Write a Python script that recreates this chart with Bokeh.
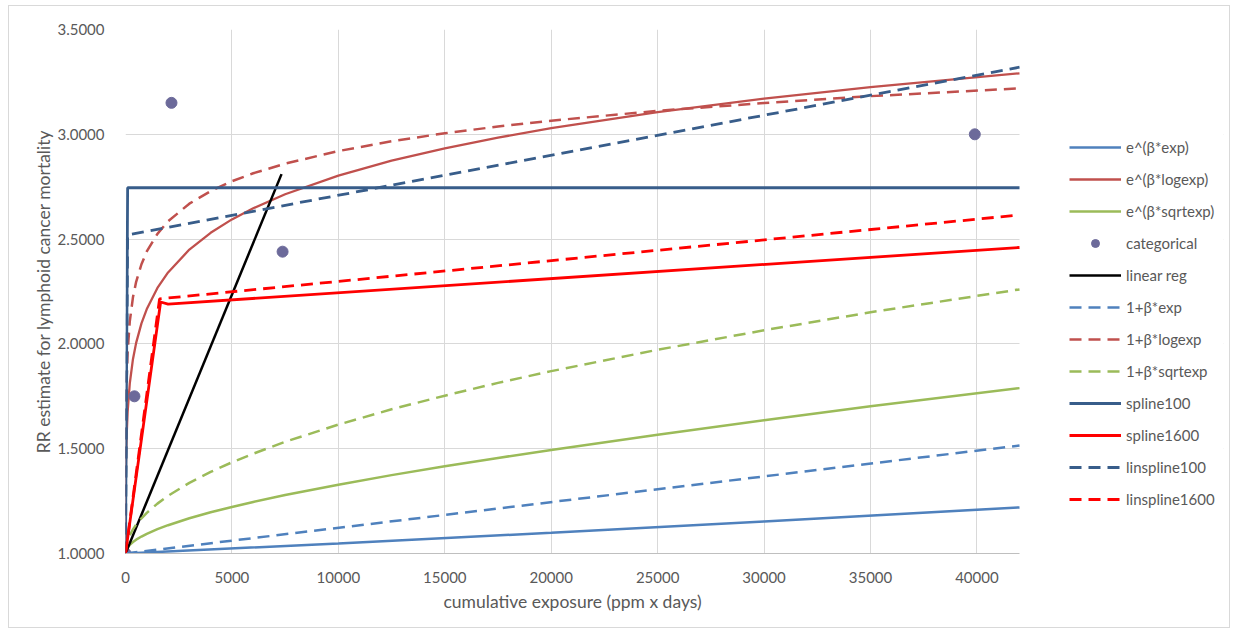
from bokeh.plotting import figure
from bokeh.models import (Legend, LegendItem, NumeralTickFormatter, Range1d,
                          BoxAnnotation, Title)
from bokeh.embed import file_html
from bokeh.resources import INLINE

# Exposure grid (ppm x days) on which the continuous model curves are given
model_x = [0, 10, 25, 50, 100, 200, 350, 500, 750, 1000, 1500, 2000, 3000, 4000,
           5000, 6000, 7500, 10000, 12500, 15000, 17500, 20000, 25000, 30000, 35000, 42000]

# RR estimates for lymphoid cancer mortality, one list per model
exp_logexp_rr = [1.000, 1.308, 1.440, 1.553, 1.676, 1.810, 1.927, 2.005, 2.098, 2.166,
                 2.267, 2.341, 2.450, 2.530, 2.594, 2.647, 2.714, 2.803, 2.874, 2.933,
                 2.984, 3.029, 3.106, 3.170, 3.225, 3.291]
lin_logexp_rr = [1.000, 1.500, 1.679, 1.820, 1.962, 2.106, 2.222, 2.296, 2.380, 2.441,
                 2.525, 2.585, 2.669, 2.729, 2.776, 2.814, 2.860, 2.920, 2.967, 3.005,
                 3.037, 3.065, 3.112, 3.149, 3.182, 3.219]
exp_sqrtexp_rr = [1.000, 1.009, 1.014, 1.020, 1.029, 1.041, 1.055, 1.066, 1.081, 1.094,
                  1.116, 1.135, 1.168, 1.197, 1.222, 1.246, 1.279, 1.328, 1.374, 1.416,
                  1.456, 1.494, 1.567, 1.636, 1.702, 1.789]
lin_sqrtexp_rr = [1.000, 1.019, 1.031, 1.043, 1.062, 1.087, 1.115, 1.138, 1.168, 1.194,
                  1.238, 1.275, 1.337, 1.389, 1.435, 1.476, 1.533, 1.615, 1.688, 1.753,
                  1.814, 1.870, 1.972, 2.065, 2.151, 2.260]

exp_exp_x = [0, 10000, 20000, 30000, 42000]
exp_exp_rr = [1.000, 1.048, 1.099, 1.153, 1.220]

lin_exp_x = [0, 42000]
lin_exp_rr = [1.000, 1.515]

linreg_x = [0, 7330]
linreg_rr = [1.000, 2.810]

categorical_x = [0, 420, 2160, 7380, 39900]
categorical_rr = [1.000, 1.750, 3.150, 2.440, 3.000]

spline100_x = [0, 100, 42000]
spline100_rr = [1.000, 2.745, 2.745]

spline1600_x = [0, 1650, 2000, 42000]
spline1600_rr = [1.000, 2.200, 2.190, 2.460]

linspline100_x = [0, 100, 42000]
linspline100_rr = [1.000, 2.520, 3.320]

linspline1600_x = [0, 1600, 42000]
linspline1600_rr = [1.000, 2.215, 2.615]

x_ticks = [0, 5000, 10000, 15000, 20000, 25000, 30000, 35000, 40000]
y_ticks = [1.0, 1.5, 2.0, 2.5, 3.0, 3.5]

X_MAX = 42000                 # right end of the plotted exposure axis
PLOT_W = 894                  # pixel width of the data area (0 .. X_MAX)
FRAME_W = 1098                # frame also holds the legend to the right of the data area

FONT = "Lato"
TEXT = "#595959"
GRID = "#D9D9D9"
DASH = "12 7"
X_TITLE = "cumulative exposure (ppm x days)"

p = figure(width=1222, height=623,
           x_range=Range1d(0, X_MAX * FRAME_W / PLOT_W), y_range=Range1d(1.0, 3.5),
           output_backend="svg", toolbar_location=None,
           min_border_left=116, min_border_right=8,
           min_border_top=23, min_border_bottom=76)
p.margin = (5, 0, 0, 8)
p.styles = {"border": "1px solid #D9D9D9"}
p.outline_line_color = None
p.background_fill_color = "white"
p.border_fill_color = "white"

# axes
p.xaxis.ticker = x_ticks
p.yaxis.ticker = y_ticks
p.xgrid.ticker = x_ticks
p.ygrid.ticker = y_ticks
p.xgrid.grid_line_color = GRID
p.ygrid.grid_line_color = GRID
p.yaxis.formatter = NumeralTickFormatter(format="0.0000")
p.xaxis.formatter = NumeralTickFormatter(format="0")
for ax in (p.xaxis, p.yaxis):
    ax.major_tick_line_color = None
    ax.minor_tick_line_color = None
    ax.major_label_text_font = FONT
    ax.major_label_text_font_size = "15px"
    ax.major_label_text_color = TEXT
p.xaxis.bounds = (0, X_MAX)
p.xaxis.axis_line_color = "#BFBFBF"
p.yaxis.axis_line_color = None
p.xaxis.major_label_standoff = 12
p.yaxis.major_label_standoff = 15

p.yaxis.axis_label = "RR estimate for lymphoid cancer mortality"
p.yaxis.axis_label_text_font = FONT
p.yaxis.axis_label_text_font_size = "17.5px"
p.yaxis.axis_label_text_font_style = "normal"
p.yaxis.axis_label_text_color = TEXT
p.yaxis.axis_label_standoff = 0

# x-axis title, centred under the data area (0 .. X_MAX) rather than the whole frame
p.add_layout(Title(text=X_TITLE, align="left", offset=318, standoff=6,
                   text_font=FONT, text_font_size="17.5px", text_font_style="normal",
                   text_color=TEXT), "below")

# blank out the gridlines to the right of the data area, where the legend sits
p.add_layout(BoxAnnotation(left=X_MAX, fill_color="white", fill_alpha=1.0,
                           line_color=None, level="underlay"))

# series, in legend order
r1 = p.line(exp_exp_x, exp_exp_rr, line_color="#4F81BD", line_width=2.5)
r2 = p.line(model_x, exp_logexp_rr, line_color="#C0504D", line_width=2.3)
r3 = p.line(model_x, exp_sqrtexp_rr, line_color="#9BBB59", line_width=2.5)
r4 = p.scatter(categorical_x, categorical_rr, size=11, fill_color="#6C6A9A",
               line_color="#6C6A9A")
r5 = p.line(linreg_x, linreg_rr, line_color="black", line_width=2.5)
r6 = p.line(lin_exp_x, lin_exp_rr, line_color="#4F81BD", line_width=2.5, line_dash=DASH)
r7 = p.line(model_x, lin_logexp_rr, line_color="#C0504D", line_width=2.5, line_dash=DASH)
r8 = p.line(model_x, lin_sqrtexp_rr, line_color="#9BBB59", line_width=2.5, line_dash=DASH)
r9 = p.line(spline100_x, spline100_rr, line_color="#385D8A", line_width=2.8)
r10 = p.line(spline1600_x, spline1600_rr, line_color="#FF0000", line_width=2.8)
r11 = p.line(linspline100_x, linspline100_rr, line_color="#385D8A", line_width=2.8,
             line_dash=DASH)
r12 = p.line(linspline1600_x, linspline1600_rr, line_color="#FF0000", line_width=2.8,
             line_dash=DASH)

labels = ["e^(\u03b2*exp)", "e^(\u03b2*logexp)", "e^(\u03b2*sqrtexp)", "categorical",
          "linear reg", "1+\u03b2*exp", "1+\u03b2*logexp", "1+\u03b2*sqrtexp",
          "spline100", "spline1600", "linspline100", "linspline1600"]
renderers = [r1, r2, r3, r4, r5, r6, r7, r8, r9, r10, r11, r12]

legend = Legend(items=[LegendItem(label=l, renderers=[r]) for l, r in zip(labels, renderers)],
                location=(PLOT_W + 50, 44), margin=0, padding=0, spacing=12,
                glyph_width=52, glyph_height=20, label_height=20, label_standoff=5,
                label_text_font=FONT, label_text_font_size="15px",
                label_text_color=TEXT, border_line_color=None,
                background_fill_alpha=0)
p.add_layout(legend, "center")

open("out.html", "w").write(file_html(p, INLINE))
